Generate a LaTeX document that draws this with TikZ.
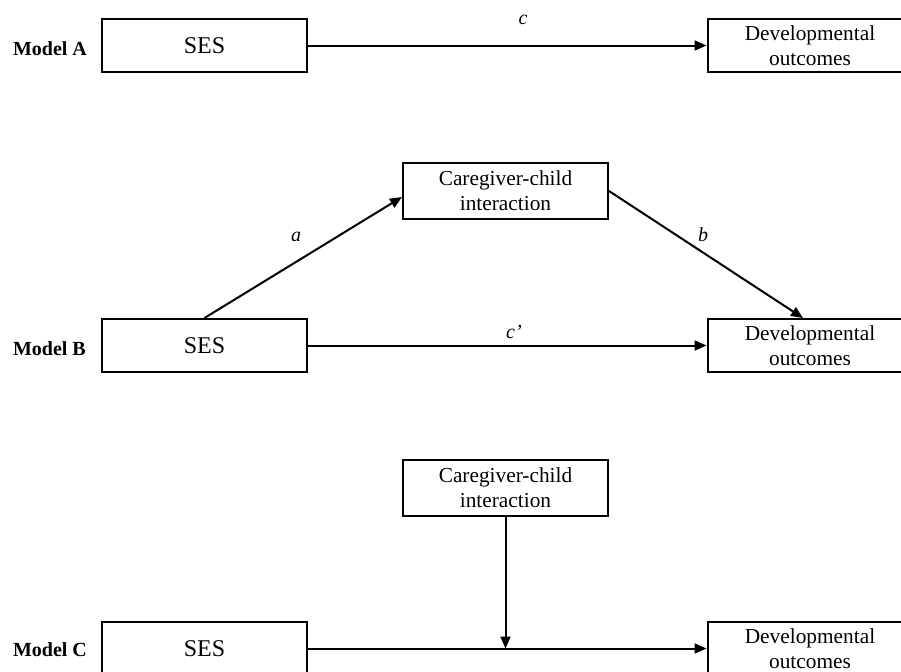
\documentclass[tikz,border=0pt]{standalone}
\usepackage{fontspec}
\setmainfont{Liberation Serif}
\usetikzlibrary{arrows.meta}
\begin{document}
\begin{tikzpicture}[x=0.75pt, y=-0.75pt, line width=1.5pt, line join=miter, >={Triangle[length=9pt,width=7.5pt]},
	varbox/.style={draw, inner sep=0pt, minimum width=153.75pt, minimum height=39.75pt, align=center, font=\fontsize{16}{18.75}\selectfont},
	medbox/.style={varbox, minimum height=42pt},
	sesbox/.style={varbox, font=\fontsize{18}{20}\selectfont},
	modeltag/.style={anchor=west, inner sep=0pt, font=\bfseries\fontsize{15}{18}\selectfont},
	coef/.style={inner sep=0pt, font=\itshape\fontsize{15}{18}\selectfont}]
	\useasboundingbox (0,0) rectangle (901,672);
	\clip (0,0) rectangle (901,672);
	% Model A
	\node[modeltag] (tagA) at (12,49) {Model A};
	\node[sesbox] (sesA) at (204.5,45.5) {SES};
	\node[varbox] (devA) at (810,45.5) {Developmental\\outcomes};
	\draw[->] (sesA) -- (devA);
	\node[coef] (labc) at (523,20) {c};
	% Model B
	\node[modeltag] (tagB) at (12,349) {Model B};
	\node[sesbox] (sesB) at (204.5,345.5) {SES};
	\node[medbox] (careB) at (505.5,191) {Caregiver-child\\interaction};
	\node[varbox] (devB) at (810,345.5) {Developmental\\outcomes};
	\draw[->] (sesB.north) -- ([yshift=-4.5pt]careB.west);
	\draw[->] (careB.east) -- ([xshift=-5.25pt]devB.north);
	\draw[->] (sesB) -- (devB);
	\node[coef] (laba) at (296,237) {a};
	\node[coef] (labb) at (703,235) {b};
	\node[coef] (labcp) at (514,332) {c’};
	% Model C
	\node[modeltag] (tagC) at (12,650) {Model C};
	\node[sesbox] (sesC) at (204.5,648.5) {SES};
	\node[medbox] (careC) at (505.5,488) {Caregiver-child\\interaction};
	\node[varbox] (devC) at (810,648.5) {Developmental\\outcomes};
	\draw[->] (sesC) -- (devC);
	\coordinate (joinC) at (careC.south |- sesC.east);
	\draw[->] (careC.south) -- (joinC);
\end{tikzpicture}
\end{document}
